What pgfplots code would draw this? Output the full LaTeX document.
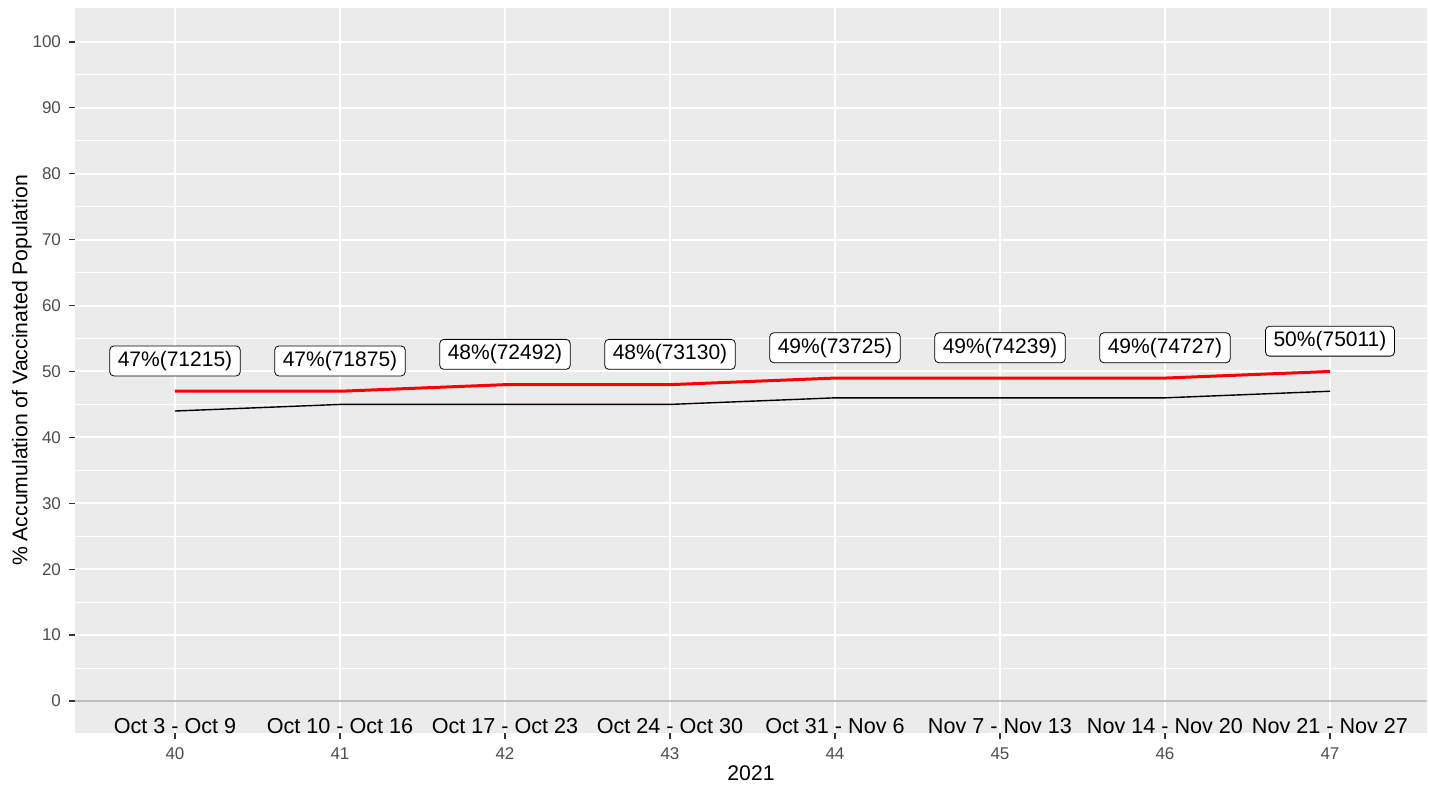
\documentclass[border=0pt]{standalone}
\usepackage{pgfplots}
\pgfplotsset{compat=1.18}
\usepackage{pgfplotstable}
\usepackage{fontspec}
\setmainfont{Liberation Sans}
\definecolor{panelgray}{HTML}{EBEBEB}
\definecolor{tickgray}{HTML}{4D4D4D}
\definecolor{tickmark}{HTML}{333333}
\definecolor{zeroline}{HTML}{BEBEBE}

\pgfplotstableread{
x red black cnt
40 47 44 71215
41 47 45 71875
42 48 45 72492
43 48 45 73130
44 49 46 73725
45 49 46 74239
46 49 46 74727
47 50 47 75011
}\vacc

\begin{document}
\begin{tikzpicture}
\useasboundingbox (-37.5pt,-26pt) rectangle (677pt,366.5pt);
\begin{axis}[
  at={(0,0)}, anchor=south west,
  scale only axis,
  width=676pt, height=362.5pt,
  xmin=39.394, xmax=47.588,
  ymin=-4.86, ymax=105.16,
  axis background/.style={fill=panelgray},
  axis line style={draw=none},
  xtick={40,41,...,47},
  ytick={0,10,...,100},
  minor ytick={5,15,...,95},
  xmajorgrids, ymajorgrids, yminorgrids,
  major grid style={white, line width=1pt},
  minor grid style={white, line width=0.5pt},
  tick align=outside,
  xtick pos=lower, ytick pos=left,
  major tick length=3pt,
  minor tick length=0pt,
  tick style={tickmark, line width=0.6pt},
  /pgf/number format/assume math mode=true,
  ticklabel style={font=\fontsize{8.5}{10}\selectfont, text=tickgray},
  xticklabel style={yshift=-1pt},
  yticklabel style={xshift=-0.5pt},
  xlabel={2021},
  ylabel={\% Accumulation of Vaccinated Population},
  xlabel style={at={(axis description cs:0.5,-0.0552)}, anchor=center, font=\fontsize{10.6}{12}\selectfont},
  ylabel style={at={(axis description cs:-0.0392,0.5)}, anchor=center, font=\fontsize{10.6}{12}\selectfont},
]
\addplot[zeroline, line width=1pt, forget plot] coordinates {(39.394,0) (47.588,0)};
\addplot[red, line width=1.5pt, mark=none] table[x=x, y=red] {\vacc};
\addplot[black, line width=0.7pt, mark=none] table[x=x, y=black] {\vacc};
\addplot[draw=none, mark=none,
  point meta=explicit symbolic,
  nodes near coords,
  nodes near coords align=center,
  every node near coord/.style={anchor=center, draw=black, fill=white, rounded corners=2pt,
    inner xsep=4pt, inner ysep=2.6pt, line width=0.4pt, text=black,
    font=\fontsize{10.5}{12}\selectfont},
] coordinates {
(40,51.6) [47\%(71215)]
(41,51.6) [47\%(71875)]
(42,52.6) [48\%(72492)]
(43,52.6) [48\%(73130)]
(44,53.6) [49\%(73725)]
(45,53.6) [49\%(74239)]
(46,53.6) [49\%(74727)]
(47,54.6) [50\%(75011)]
};
\addplot[draw=none, mark=none,
  point meta=explicit symbolic,
  nodes near coords,
  nodes near coords align=center,
  every node near coord/.style={anchor=center, text=black, inner sep=0pt,
    font=\fontsize{10.8}{12}\selectfont},
] coordinates {
(40,-3.8) [Oct 3 - Oct 9]
(41,-3.8) [Oct 10 - Oct 16]
(42,-3.8) [Oct 17 - Oct 23]
(43,-3.8) [Oct 24 - Oct 30]
(44,-3.8) [Oct 31 - Nov 6]
(45,-3.8) [Nov 7 - Nov 13]
(46,-3.8) [Nov 14 - Nov 20]
(47,-3.8) [Nov 21 - Nov 27]
};
\end{axis}
\end{tikzpicture}
\end{document}
